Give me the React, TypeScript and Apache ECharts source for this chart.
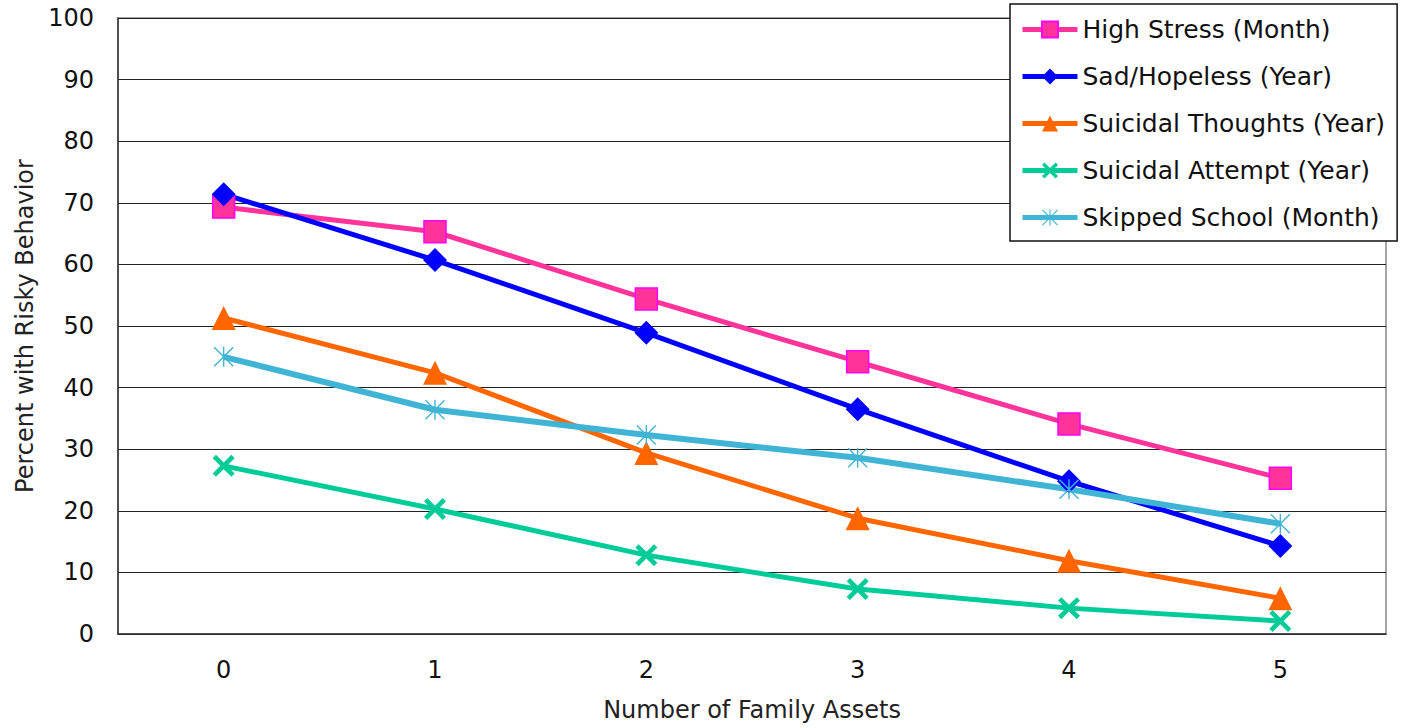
import React, { useEffect, useRef } from "react";
import * as echarts from "echarts";

const categories = ["0", "1", "2", "3", "4", "5"];
const highStress = [69.3, 65.3, 54.4, 44.2, 34.1, 25.3];
const sadHopeless = [71.4, 60.7, 48.9, 36.5, 24.8, 14.3];
const suicidalThoughts = [51.3, 42.4, 29.4, 18.8, 11.9, 5.8];
const suicidalAttempt = [27.3, 20.3, 12.8, 7.3, 4.2, 2.1];
const skippedSchool = [45.0, 36.4, 32.3, 28.6, 23.5, 17.9];

const seriesNames = [
  "High Stress (Month)",
  "Sad/Hopeless (Year)",
  "Suicidal Thoughts (Year)",
  "Suicidal Attempt (Year)",
  "Skipped School (Month)",
];

const FONT = "DejaVu Sans";

const X_SYMBOL =
  "path://M0,3 L3,0 L10,7 L17,0 L20,3 L13,10 L20,17 L17,20 L10,13 L3,20 L0,17 L7,10 Z";
const STAR_SYMBOL =
  "path://M0,1 L1,0 L20,19 L19,20 Z M19,0 L20,1 L1,20 L0,19 Z M9.3,0 L10.7,0 L10.7,20 L9.3,20 Z";

export default function App() {
  const ref = useRef<HTMLDivElement>(null);
  useEffect(() => {
    if (!ref.current) return;
    const chart = echarts.init(ref.current, null, { renderer: "svg" });
    const mk = (
      name: string,
      data: number[],
      color: string,
      symbol: string,
      size: number,
      width: number,
      border?: string
    ) => ({
      name,
      type: "line",
      data,
      symbol,
      symbolSize: size,
      lineStyle: { color, width },
      itemStyle: {
        color,
        borderColor: border || color,
        borderWidth: border ? 1.5 : 0,
      },
      z: 3,
    });
    chart.setOption({
      animation: false,
      backgroundColor: "#ffffff",
      textStyle: { fontFamily: FONT },
      grid: {
        left: 118,
        right: 16,
        top: 18,
        bottom: 94,
        show: true,
        borderColor: "#888",
        borderWidth: 1.5,
        outerBoundsMode: "none",
        containLabel: false,
      },
      legend: {
        orient: "vertical",
        left: 1010,
        top: 4,
        padding: [13, 12, 11, 10],
        itemGap: 22,
        itemWidth: 55,
        itemHeight: 20,
        backgroundColor: "#ffffff",
        borderColor: "#111",
        borderWidth: 1.5,
        lineStyle: { width: 5 },
        textStyle: { fontFamily: FONT, fontSize: 25, color: "#111", lineHeight: 25 },
        data: seriesNames,
      },
      xAxis: {
        type: "category",
        data: categories,
        boundaryGap: true,
        name: "Number of Family Assets",
        nameLocation: "middle",
        nameGap: 64,
        nameTextStyle: { fontFamily: FONT, fontSize: 24, color: "#222" },
        axisLine: { lineStyle: { color: "#333", width: 1.5 } },
        axisTick: { show: false },
        axisLabel: { fontFamily: FONT, fontSize: 24, color: "#111", margin: 24 },
      },
      yAxis: {
        type: "value",
        min: 0,
        max: 100,
        interval: 10,
        name: "Percent with Risky Behavior",
        nameLocation: "middle",
        nameGap: 74,
        nameRotate: 90,
        nameTextStyle: { fontFamily: FONT, fontSize: 24, color: "#222" },
        axisLine: { show: true, lineStyle: { color: "#333", width: 1.5 } },
        axisTick: { show: false },
        axisLabel: { fontFamily: FONT, fontSize: 24, color: "#111", margin: 24 },
        splitLine: { lineStyle: { color: "#222", width: 1 } },
      },
      series: [
        mk(seriesNames[0], highStress, "#FF3399", "rect", 22, 5, "#FF00FF"),
        mk(seriesNames[1], sadHopeless, "#0000FF", "diamond", 24, 5),
        mk(seriesNames[2], suicidalThoughts, "#FF6600", "triangle", 24, 5),
        mk(seriesNames[3], suicidalAttempt, "#00CC99", X_SYMBOL, 22, 5),
        mk(seriesNames[4], skippedSchool, "#40B4D4", STAR_SYMBOL, 20, 6),
      ],
    });
    return () => chart.dispose();
  }, []);
  return (
    <div
      ref={ref}
      style={{ position: "fixed", left: 0, top: 0, width: 1402, height: 728 }}
    />
  );
}
